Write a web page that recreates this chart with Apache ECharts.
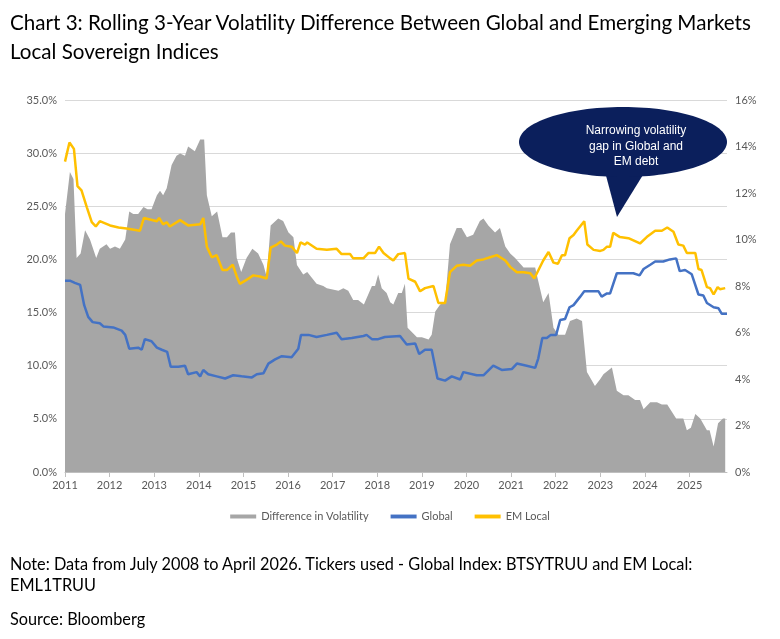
<!DOCTYPE html>
<html>
<head>
<meta charset="utf-8">
<script src="https://cdn.jsdelivr.net/npm/echarts@6/dist/echarts.min.js"></script>
<style>
  body { margin: 0; background: #fff; font-family: Lato, "Noto Sans", sans-serif; }
  #title { position: absolute; left: 10px; top: 8px; font-size: 20.6px; line-height: 29px; color: #000; }
  #chart { position: absolute; left: 0; top: 0; width: 780px; height: 639px; }
  #note { position: absolute; left: 10px; top: 553px; font-size: 16.3px; line-height: 21px; color: #000; width: 740px; }
  #source { position: absolute; left: 10px; top: 609px; font-size: 16.3px; color: #000; }
</style>
</head>
<body>
<div id="chart"></div>
<div id="title">Chart 3: Rolling 3-Year Volatility Difference Between Global and Emerging Markets<br>Local Sovereign Indices</div>
<div id="note">Note: Data from July 2008 to April 2026. Tickers used - Global Index: BTSYTRUU and EM Local: EML1TRUU</div>
<div id="source">Source: Bloomberg</div>
<script>
  // [year, volatility %]
  var emLocal = [[2011.00,29.2],[2011.10,31.0],[2011.20,30.4],[2011.28,26.9],[2011.37,26.5],[2011.49,24.9],[2011.60,23.5],[2011.69,23.1],[2011.78,23.6],[2011.90,23.4],[2012.01,23.2],[2012.20,23.0],[2012.38,22.9],[2012.68,22.7],[2012.77,23.9],[2013.06,23.6],[2013.11,23.9],[2013.20,23.3],[2013.28,23.5],[2013.35,23.1],[2013.58,23.7],[2013.76,23.2],[2014.03,23.3],[2014.10,23.9],[2014.18,21.2],[2014.29,20.2],[2014.40,20.4],[2014.53,19.0],[2014.63,19.0],[2014.76,19.5],[2014.85,18.4],[2014.92,17.7],[2015.04,18.0],[2015.22,18.5],[2015.37,18.4],[2015.52,18.2],[2015.61,21.1],[2015.75,21.4],[2015.84,21.7],[2015.93,21.3],[2016.08,21.2],[2016.20,20.6],[2016.28,21.6],[2016.38,21.4],[2016.43,21.6],[2016.64,21.0],[2016.87,20.9],[2017.09,21.0],[2017.20,20.5],[2017.39,20.5],[2017.46,20.1],[2017.69,20.1],[2017.80,20.6],[2017.95,20.6],[2018.04,21.2],[2018.14,20.6],[2018.29,20.1],[2018.36,19.9],[2018.47,20.5],[2018.62,20.6],[2018.70,18.2],[2018.85,17.9],[2018.96,17.0],[2019.07,17.3],[2019.26,17.5],[2019.37,15.9],[2019.52,15.9],[2019.63,18.8],[2019.78,19.4],[2019.93,19.5],[2020.08,19.4],[2020.23,19.9],[2020.38,20.0],[2020.53,20.2],[2020.68,20.4],[2020.87,19.9],[2020.98,19.3],[2021.13,18.8],[2021.28,18.8],[2021.43,18.7],[2021.52,18.2],[2021.72,19.9],[2021.84,20.7],[2021.95,19.7],[2022.05,19.6],[2022.14,20.4],[2022.21,20.4],[2022.31,22.0],[2022.40,22.3],[2022.47,22.7],[2022.64,23.6],[2022.71,21.4],[2022.85,20.9],[2023.00,20.8],[2023.07,20.9],[2023.15,21.2],[2023.22,21.2],[2023.29,22.5],[2023.44,22.1],[2023.63,22.0],[2023.89,21.5],[2024.04,22.1],[2024.23,22.7],[2024.38,22.7],[2024.50,23.0],[2024.64,22.6],[2024.75,21.4],[2024.86,21.3],[2024.94,20.6],[2025.13,20.6],[2025.20,19.1],[2025.27,19.0],[2025.39,17.4],[2025.46,17.3],[2025.54,16.7],[2025.63,17.4],[2025.68,17.2],[2025.80,17.3]];

  var globalIdx = [[2011.00,18.0],[2011.11,18.0],[2011.22,17.8],[2011.34,17.6],[2011.43,15.7],[2011.52,14.6],[2011.62,14.1],[2011.78,14.0],[2011.86,13.7],[2012.08,13.6],[2012.27,13.3],[2012.35,12.9],[2012.44,11.6],[2012.64,11.7],[2012.72,11.5],[2012.79,12.5],[2012.94,12.3],[2013.06,11.7],[2013.17,11.5],[2013.29,11.3],[2013.37,9.9],[2013.54,9.9],[2013.69,10.0],[2013.76,9.2],[2013.95,9.4],[2014.03,9.0],[2014.10,9.6],[2014.21,9.2],[2014.40,9.0],[2014.59,8.8],[2014.77,9.1],[2014.96,9.0],[2015.19,8.9],[2015.30,9.2],[2015.45,9.3],[2015.56,10.2],[2015.71,10.6],[2015.86,10.9],[2016.08,10.8],[2016.23,11.6],[2016.29,12.9],[2016.46,12.9],[2016.64,12.7],[2016.87,12.9],[2017.09,13.1],[2017.20,12.5],[2017.43,12.6],[2017.69,12.8],[2017.76,12.9],[2017.88,12.5],[2018.02,12.5],[2018.17,12.7],[2018.51,12.8],[2018.66,12.0],[2018.85,12.1],[2018.94,11.1],[2019.07,11.5],[2019.22,11.5],[2019.35,8.8],[2019.52,8.6],[2019.67,9.0],[2019.86,8.7],[2019.93,9.4],[2020.23,9.1],[2020.38,9.1],[2020.60,10.0],[2020.79,9.6],[2021.02,9.7],[2021.13,10.2],[2021.35,10.0],[2021.54,9.8],[2021.61,10.7],[2021.70,12.6],[2021.80,12.6],[2021.89,12.9],[2022.01,12.9],[2022.10,14.3],[2022.21,14.4],[2022.31,15.5],[2022.40,15.7],[2022.55,16.5],[2022.64,17.0],[2022.96,17.0],[2023.03,16.5],[2023.15,16.8],[2023.22,16.8],[2023.37,18.7],[2023.59,18.7],[2023.74,18.7],[2023.88,18.5],[2023.97,19.1],[2024.12,19.5],[2024.23,19.8],[2024.41,19.8],[2024.56,20.0],[2024.70,20.1],[2024.78,18.9],[2024.90,19.0],[2025.05,18.6],[2025.20,16.7],[2025.31,16.6],[2025.39,15.9],[2025.54,15.5],[2025.65,15.4],[2025.72,14.9],[2025.84,14.9]];

  // difference in volatility, right axis
  var volDiff = [[2011.00,11.1],[2011.11,12.9],[2011.19,12.6],[2011.26,9.2],[2011.35,9.4],[2011.45,10.4],[2011.56,10.0],[2011.70,9.2],[2011.78,9.6],[2011.93,9.8],[2012.01,9.6],[2012.12,9.7],[2012.23,9.6],[2012.35,10.0],[2012.44,11.2],[2012.53,11.1],[2012.64,11.1],[2012.76,11.4],[2012.85,11.3],[2012.94,11.3],[2013.06,11.9],[2013.13,12.1],[2013.20,11.9],[2013.28,12.2],[2013.39,13.2],[2013.50,13.6],[2013.58,13.7],[2013.69,13.6],[2013.76,14.0],[2013.91,13.8],[2014.03,14.3],[2014.12,14.3],[2014.18,11.9],[2014.29,11.0],[2014.41,11.2],[2014.53,10.1],[2014.63,10.1],[2014.72,10.3],[2014.81,10.3],[2014.85,9.2],[2014.95,8.6],[2015.07,9.2],[2015.20,9.6],[2015.33,9.4],[2015.45,8.9],[2015.52,8.4],[2015.61,10.6],[2015.78,10.9],[2015.89,10.8],[2016.01,10.3],[2016.12,10.1],[2016.20,8.9],[2016.34,8.5],[2016.43,8.6],[2016.64,8.1],[2016.79,8.0],[2016.87,7.9],[2017.13,7.8],[2017.24,7.9],[2017.35,7.8],[2017.46,7.4],[2017.57,7.4],[2017.70,7.2],[2017.88,8.0],[2017.95,8.0],[2018.02,8.5],[2018.10,7.9],[2018.21,7.7],[2018.29,7.3],[2018.36,7.2],[2018.47,7.7],[2018.55,7.7],[2018.62,8.1],[2018.68,6.2],[2018.89,5.8],[2019.00,5.8],[2019.15,5.7],[2019.22,5.9],[2019.30,6.9],[2019.41,7.2],[2019.52,7.3],[2019.63,9.8],[2019.78,10.5],[2019.89,10.5],[2020.01,10.1],[2020.15,10.2],[2020.30,10.8],[2020.38,10.9],[2020.49,10.6],[2020.64,10.3],[2020.75,10.5],[2020.87,9.7],[2020.98,9.4],[2021.09,9.2],[2021.28,8.8],[2021.43,8.8],[2021.54,8.8],[2021.61,8.2],[2021.72,7.3],[2021.84,7.7],[2021.95,6.2],[2022.06,5.9],[2022.21,5.9],[2022.32,6.5],[2022.47,6.6],[2022.59,6.5],[2022.70,4.3],[2022.88,3.7],[2023.00,4.0],[2023.07,4.2],[2023.26,4.5],[2023.37,3.5],[2023.52,3.3],[2023.63,3.3],[2023.78,3.1],[2023.89,3.1],[2023.97,2.7],[2024.12,3.0],[2024.27,3.0],[2024.38,2.9],[2024.50,2.9],[2024.60,2.6],[2024.70,2.3],[2024.86,2.3],[2024.94,1.8],[2025.03,1.9],[2025.13,2.5],[2025.24,2.3],[2025.39,1.8],[2025.45,1.8],[2025.54,1.1],[2025.64,2.1],[2025.75,2.3],[2025.80,2.3]];

  var chart = echarts.init(document.getElementById('chart'));
  var axisText = { color: '#595959', fontSize: 11, fontFamily: 'Lato' };
  chart.setOption({
    animation: false,
    grid: { left: 65, right: 53, top: 100, bottom: 167 },
    legend: {
      bottom: 112, left: 'center', itemGap: 22,
      textStyle: { color: '#595959', fontSize: 11, fontFamily: 'Lato' },
      data: [
        { name: 'Difference in Volatility', icon: 'rect', itemWidth: 26, itemHeight: 8 },
        { name: 'Global', icon: 'path://M0,0h20v3h-20z' },
        { name: 'EM Local', icon: 'path://M0,0h20v3h-20z' }
      ],
      itemWidth: 26, itemHeight: 4
    },
    xAxis: {
      type: 'value', min: 2011, max: 2025.84, interval: 1,
      axisLabel: Object.assign({ showMaxLabel: false, formatter: function (v) { return String(v); } }, axisText),
      axisLine: { lineStyle: { color: '#bfbfbf' } },
      axisTick: { show: true, lineStyle: { color: '#bfbfbf' } },
      splitLine: { show: false }
    },
    yAxis: [
      {
        type: 'value', min: 0, max: 35, interval: 5,
        axisLabel: Object.assign({ formatter: function (v) { return v.toFixed(1) + '%'; } }, axisText),
        splitLine: { lineStyle: { color: '#d9d9d9' } },
        axisLine: { show: false }, axisTick: { show: false }
      },
      {
        type: 'value', min: 0, max: 16, interval: 2,
        axisLabel: Object.assign({ formatter: '{value}%' }, axisText),
        splitLine: { show: false },
        axisLine: { show: false }, axisTick: { show: false }
      }
    ],
    series: [
      {
        name: 'Difference in Volatility', type: 'line', yAxisIndex: 1, data: volDiff,
        symbol: 'none', lineStyle: { width: 0 }, itemStyle: { color: '#a6a6a6' },
        areaStyle: { color: '#a6a6a6', opacity: 1 }, z: 1
      },
      {
        name: 'Global', type: 'line', data: globalIdx, symbol: 'none',
        lineStyle: { width: 2.5, color: '#4472c4' }, itemStyle: { color: '#4472c4' }, z: 3
      },
      {
        name: 'EM Local', type: 'line', data: emLocal, symbol: 'none',
        lineStyle: { width: 2.5, color: '#ffc000' }, itemStyle: { color: '#ffc000' }, z: 3
      }
    ],
    graphic: [
      { type: 'polygon', z: 100, shape: { points: [[604, 168], [646, 170], [617, 217]] }, style: { fill: '#0b1f5c' } },
      { type: 'ellipse', z: 100, shape: { cx: 623, cy: 142, rx: 104, ry: 35 }, style: { fill: '#0b1f5c' } },
      {
        type: 'text', z: 101, x: 636, y: 123,
        style: {
          text: 'Narrowing volatility\ngap in Global and\nEM debt', fill: '#fff',
          font: '12px "Liberation Sans", Arial, sans-serif', lineHeight: 15.5, align: 'center'
        }
      }
    ]
  });
</script>
</body>
</html>
